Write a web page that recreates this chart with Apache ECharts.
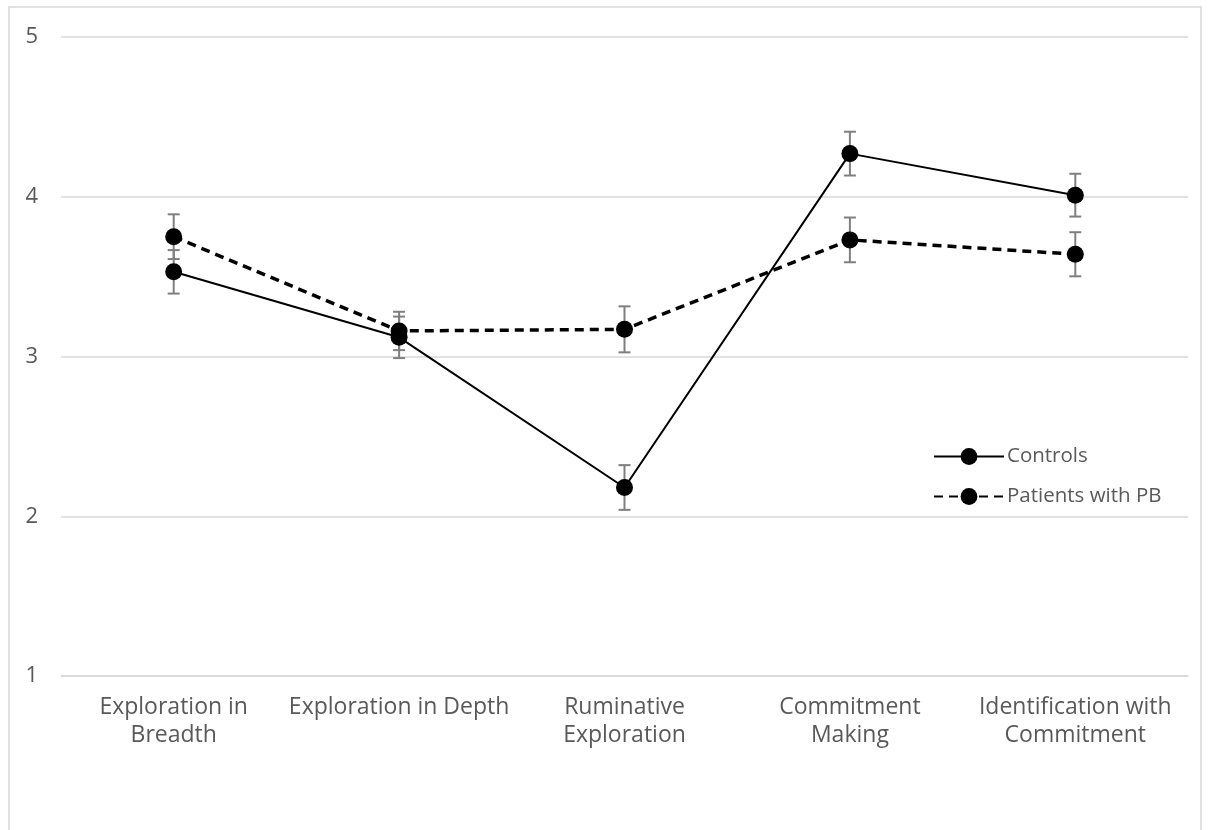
<!DOCTYPE html>
<html><head><meta charset="utf-8">
<script src="https://cdn.jsdelivr.net/npm/echarts@6/dist/echarts.min.js"></script>
<style>html,body{margin:0;padding:0;background:#fff}#c{width:1210px;height:830px}</style>
</head><body><div id="c"></div>
<script>
var categories = ['Exploration in\nBreadth', 'Exploration in Depth', 'Ruminative\nExploration', 'Commitment\nMaking', 'Identification with\nCommitment'];
var controls = [3.53, 3.12, 2.18, 4.27, 4.01];
var controlsErr = [0.136, 0.13, 0.14, 0.137, 0.134];
var patients = [3.75, 3.16, 3.17, 3.73, 3.64];
var patientsErr = [0.14, 0.12, 0.144, 0.14, 0.138];
var yTicks = [1, 2, 3, 4, 5];

var FONT = 'Open Sans';
var chart = echarts.init(document.getElementById('c'));

function errSeries(vals, errs) {
  return {
    type: 'custom', silent: true, z: 1,
    data: vals.map(function (v, i) { return [i, v - errs[i], v + errs[i]]; }),
    renderItem: function (params, api) {
      var lo = api.coord([api.value(0), api.value(1)]);
      var hi = api.coord([api.value(0), api.value(2)]);
      var w = 6;
      var st = { stroke: '#7f7f7f', lineWidth: 2 };
      return { type: 'group', children: [
        { type: 'line', shape: { x1: lo[0], y1: lo[1], x2: hi[0], y2: hi[1] }, style: st },
        { type: 'line', shape: { x1: lo[0] - w, y1: lo[1], x2: lo[0] + w, y2: lo[1] }, style: st },
        { type: 'line', shape: { x1: hi[0] - w, y1: hi[1], x2: hi[0] + w, y2: hi[1] }, style: st }
      ]};
    }
  };
}

chart.setOption({
  animation: false,
  textStyle: { fontFamily: FONT },
  graphic: [{ type: 'rect', shape: { x: 9, y: 7, width: 1192, height: 840 }, style: { fill: 'none', stroke: '#d9d9d9', lineWidth: 1.5 }, silent: true }],
  grid: { left: 61, right: 22, top: 37, bottom: 154 },
  legend: {
    orient: 'vertical', left: 928, top: 441, itemGap: 19, itemWidth: 70, itemHeight: 21,
    textStyle: { color: '#595959', fontSize: 20.5, fontFamily: FONT, padding: [0, 0, 0, -2] },
    data: ['Controls', 'Patients with PB']
  },
  xAxis: {
    type: 'category', data: categories, boundaryGap: true,
    axisLine: { lineStyle: { color: '#d9d9d9', width: 1.5 } },
    axisTick: { show: false },
    axisLabel: { color: '#595959', fontSize: 23, lineHeight: 28, margin: 17, fontFamily: FONT, interval: 0 }
  },
  yAxis: {
    type: 'value', min: yTicks[0], max: yTicks[yTicks.length - 1], interval: 1,
    axisLine: { show: false }, axisTick: { show: false },
    splitLine: { lineStyle: { color: '#d9d9d9', width: 1.5 } },
    axisLabel: { color: '#595959', fontSize: 22, margin: 23, fontFamily: FONT }
  },
  series: [
    errSeries(controls, controlsErr),
    errSeries(patients, patientsErr),
    { name: 'Controls', type: 'line', data: controls, z: 3, symbol: 'circle', symbolSize: 17,
      itemStyle: { color: '#000' }, lineStyle: { color: '#000', width: 2 } },
    { name: 'Patients with PB', type: 'line', data: patients, z: 3, symbol: 'circle', symbolSize: 17,
      itemStyle: { color: '#000' }, lineStyle: { color: '#000', width: 3.5, type: [9, 6] } }
  ]
});
</script></body></html>
